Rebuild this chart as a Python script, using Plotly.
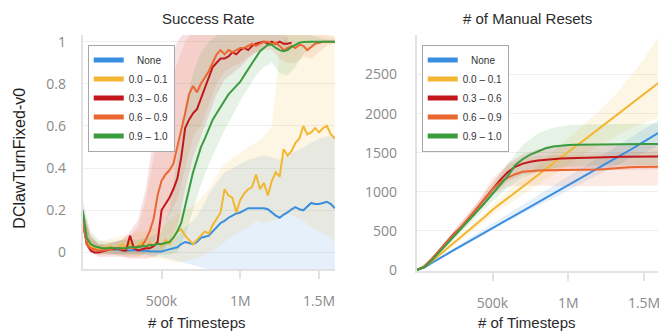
import plotly.graph_objects as go

# ---------------- data ----------------
LABELS = ["\u00a0\u00a0\u00a0None", "0.0 \u2013 0.1", "0.3 \u2013 0.6", "0.6 \u2013 0.9", "0.9 \u2013 1.0"]
COLORS = ["#3a8ee0", "#f2b632", "#c3161c", "#ea6730", "#3a9c3e"]

X_TICKS = [500_000, 1_000_000, 1_500_000]
X_TICK_TEXT = ["500k", "1M", "1.5M"]
SR_Y_TICKS = [0, 0.2, 0.4, 0.6, 0.8, 1.0]
SR_Y_TEXT = ["0", "0.2", "0.4", "0.6", "0.8", "1"]
MR_Y_TICKS = [0, 500, 1000, 1500, 2000, 2500]
MR_Y_TEXT = ["0", "500", "1000", "1500", "2000", "2500"]

# success rate, sampled every 25k steps
sr_steps = [i * 25_000 for i in range(65)]
sr_none = [0.15, 0.05, 0.03, 0.025, 0.02, 0.02, 0.018, 0.015, 0.015, 0.012,
           0.01, 0.01, 0.01, 0.012, 0.01, 0.01, 0.008, 0.006, 0.005, 0.004,
           0.005, 0.01, 0.015, 0.02, 0.025, 0.04, 0.05, 0.045, 0.04, 0.05,
           0.07, 0.075, 0.08, 0.1, 0.12, 0.14, 0.15, 0.165, 0.175, 0.185,
           0.19, 0.2, 0.21, 0.21, 0.21, 0.21, 0.21, 0.205, 0.19, 0.175,
           0.165, 0.18, 0.19, 0.205, 0.215, 0.205, 0.2, 0.22, 0.235, 0.23,
           0.23, 0.235, 0.24, 0.23, 0.21]
sr_00_01 = [0.15, 0.05, 0.03, 0.02, 0.02, 0.025, 0.02, 0.03, 0.02, 0.025,
            0.04, 0.02, 0.045, 0.025, 0.03, 0.05, 0.02, 0.045, 0.03, 0.05,
            0.03, 0.06, 0.04, 0.07, 0.1, 0.11, 0.08, 0.06, 0.04, 0.06,
            0.08, 0.1, 0.09, 0.13, 0.16, 0.19, 0.3, 0.27, 0.26, 0.19,
            0.25, 0.28, 0.3, 0.31, 0.37, 0.3, 0.33, 0.27, 0.34, 0.38,
            0.36, 0.49, 0.46, 0.48, 0.52, 0.54, 0.6, 0.56, 0.57, 0.59,
            0.57, 0.59, 0.6, 0.56, 0.54]
sr_03_06 = [0.16, 0.04, 0.01, 0.0, 0.0, 0.005, 0.01, 0.015, 0.015, 0.02,
            0.01, 0.01, 0.08, 0.02, 0.01, 0.015, 0.02, 0.02, 0.03, 0.05,
            0.2, 0.23, 0.26, 0.3, 0.35, 0.45, 0.59, 0.63, 0.66, 0.68,
            0.73, 0.79, 0.84, 0.88, 0.9, 0.92, 0.92, 0.93, 0.95, 0.94,
            0.96, 0.97, 0.96, 0.98, 0.99, 0.995, 1.0, 0.99, 1.0, 0.99,
            1.0, 0.99, 0.99, 0.995] + [None] * 11
sr_06_09 = [0.15, 0.04, 0.02, 0.015, 0.01, 0.01, 0.012, 0.015, 0.02, 0.02,
            0.015, 0.02, 0.025, 0.02, 0.03, 0.03, 0.06, 0.1, 0.16, 0.27,
            0.34, 0.37, 0.39, 0.42, 0.5, 0.57, 0.66, 0.75, 0.79, 0.76,
            0.8, 0.83, 0.86, 0.9, 0.94, 0.96, 0.94, 0.96, 0.95, 0.96,
            0.97, 0.97, 0.98, 0.99, 0.98, 0.99, 1.0, 1.0, 0.99, 0.995,
            0.98, 0.96, 0.97, 0.98, 0.97, 0.985, 0.98, 0.96, 0.975, 0.99,
            0.995, 1.0, 1.0, 1.0, 1.0]
sr_09_10 = [0.2, 0.07, 0.04, 0.03, 0.025, 0.02, 0.02, 0.022, 0.02, 0.02,
            0.022, 0.02, 0.025, 0.025, 0.025, 0.03, 0.03, 0.035, 0.035, 0.04,
            0.04, 0.045, 0.05, 0.07, 0.1, 0.14, 0.22, 0.3, 0.38, 0.44,
            0.5, 0.54, 0.59, 0.63, 0.66, 0.69, 0.72, 0.75, 0.77, 0.79,
            0.81, 0.84, 0.87, 0.9, 0.93, 0.955, 0.97, 0.985, 0.985, 0.97,
            0.96, 0.955, 0.96, 0.975, 0.985, 0.995, 0.998, 1.0, 1.0, 1.0,
            1.0, 1.0, 1.0, 1.0, 1.0]

# success rate spread (lower / upper), sampled every 50k steps
sr_band_steps = [i * 50_000 for i in range(33)]
sr_none_lo = [0.1, 0.0, -0.01, -0.01, -0.01, -0.01, -0.01, -0.01, -0.01, -0.02,
              -0.02, -0.03, -0.04, -0.05, -0.06, -0.07, -0.08, -0.08, -0.09, -0.08,
              -0.09, -0.1, -0.08, -0.09, -0.1, -0.08, -0.09, -0.1, -0.09, -0.1,
              -0.08, -0.1, -0.1]
sr_none_hi = [0.2, 0.06, 0.04, 0.03, 0.03, 0.03, 0.03, 0.03, 0.03, 0.04,
              0.04, 0.05, 0.08, 0.12, 0.15, 0.2, 0.28, 0.33, 0.38, 0.4,
              0.42, 0.44, 0.45, 0.46, 0.45, 0.44, 0.46, 0.48, 0.5, 0.52,
              0.54, 0.55, 0.55]
sr_00_01_lo = [0.1, 0.0, -0.01, -0.01, -0.01, -0.01, -0.02, -0.02, -0.02, -0.03,
               -0.03, -0.04, -0.05, -0.04, -0.03, -0.02, 0.0, 0.02, 0.05, 0.08,
               0.1, 0.12, 0.15, 0.14, 0.15, 0.16, 0.18, 0.17, 0.15, 0.12,
               0.1, 0.08, 0.05]
sr_00_01_hi = [0.2, 0.07, 0.05, 0.06, 0.07, 0.08, 0.08, 0.1, 0.1, 0.12,
               0.12, 0.15, 0.18, 0.2, 0.22, 0.26, 0.3, 0.36, 0.42, 0.45,
               0.47, 0.5, 0.52, 0.55, 0.6, 0.95, 1.05, 1.05, 1.05, 1.05,
               1.05, 1.05, 1.05]
sr_03_06_lo = [0.1, 0.0, -0.02, -0.02, -0.02, -0.02, -0.03, -0.03, -0.03, -0.02,
               0.0, 0.05, 0.12, 0.3, 0.45, 0.55, 0.65, 0.75, 0.82, 0.85,
               0.88, 0.92, 0.95, 0.97, 0.98, 0.97, 0.97] + [None] * 6
sr_03_06_hi = [0.22, 0.08, 0.04, 0.04, 0.05, 0.06, 0.1, 0.15, 0.3, 0.55,
               0.75, 0.9, 1.0, 1.05, 1.05, 1.05, 1.05, 1.05, 1.05, 1.05,
               1.05, 1.05, 1.05, 1.05, 1.05, 1.05, 1.02] + [None] * 6
sr_06_09_lo = [0.1, 0.0, -0.01, -0.01, -0.01, -0.02, -0.02, -0.02, 0.0, 0.05,
               0.12, 0.18, 0.25, 0.4, 0.55, 0.6, 0.7, 0.8, 0.86, 0.88,
               0.9, 0.93, 0.95, 0.96, 0.96, 0.92, 0.9, 0.9, 0.93, 0.92,
               0.95, 0.98, 0.99]
sr_06_09_hi = [0.2, 0.08, 0.04, 0.04, 0.05, 0.06, 0.08, 0.12, 0.25, 0.45,
               0.65, 0.78, 0.9, 1.0, 1.05, 1.05, 1.05, 1.05, 1.05, 1.05,
               1.05, 1.05, 1.05, 1.05, 1.05, 1.05, 1.05, 1.05, 1.05, 1.05,
               1.04, 1.03, 1.02]
sr_09_10_lo = [0.15, 0.02, 0.0, 0.0, -0.01, -0.01, -0.01, -0.01, -0.01, -0.01,
               -0.01, -0.01, 0.0, 0.08, 0.2, 0.32, 0.42, 0.5, 0.58, 0.65,
               0.72, 0.78, 0.84, 0.88, 0.9, 0.85, 0.84, 0.88, 0.94, 0.97,
               0.99, 1.0, 1.0]
sr_09_10_hi = [0.25, 0.1, 0.06, 0.05, 0.05, 0.06, 0.06, 0.06, 0.07, 0.08,
               0.1, 0.2, 0.45, 0.7, 0.85, 0.95, 1.0, 1.03, 1.05, 1.05,
               1.05, 1.05, 1.05, 1.05, 1.05, 1.05, 1.05, 1.05, 1.04, 1.03,
               1.02, 1.01, 1.01]

# cumulative manual resets, sampled every 50k steps
mr_steps = [i * 50_000 for i in range(33)]
mr_none = [0, 30, 90, 150, 205, 260, 315, 370, 425, 475,
           525, 580, 635, 690, 745, 800, 855, 910, 965, 1020,
           1075, 1130, 1185, 1240, 1300, 1355, 1410, 1470, 1525, 1585,
           1645, 1700, 1760]
mr_00_01 = [0, 35, 110, 190, 270, 350, 430, 510, 590, 680,
            770, 845, 915, 990, 1060, 1135, 1210, 1285, 1360, 1435,
            1510, 1585, 1655, 1730, 1805, 1880, 1950, 2025, 2100, 2175,
            2250, 2325, 2400]
mr_03_06 = [0, 40, 140, 250, 360, 470, 560, 680, 800, 920,
            1040, 1150, 1250, 1320, 1360, 1385, 1400, 1410, 1420, 1425,
            1430, 1434, 1437, 1440, 1442, 1444, 1446, 1447, 1448, 1449,
            1450, 1450, 1450]
mr_06_09 = [0, 40, 140, 245, 355, 465, 570, 680, 790, 910,
            1030, 1120, 1180, 1225, 1255, 1268, 1272, 1274, 1275, 1275,
            1275, 1278, 1280, 1282, 1285, 1290, 1300, 1310, 1315, 1318,
            1320, 1322, 1322]
mr_09_10 = [0, 35, 125, 230, 335, 440, 540, 645, 750, 860,
            975, 1090, 1200, 1340, 1420, 1475, 1520, 1556, 1578, 1592,
            1600, 1603, 1605, 1607, 1608, 1609, 1610, 1611, 1611, 1612,
            1612, 1612, 1612]

# manual resets spread (lower / upper), sampled every 100k steps
mr_band_steps = [i * 100_000 for i in range(17)]
mr_none_lo = [0, 80, 190, 300, 410, 520, 620, 720, 820, 920, 1020, 1120, 1220, 1320, 1420, 1500, 1600]
mr_none_hi = [0, 100, 230, 350, 470, 590, 710, 830, 960, 1080, 1200, 1320, 1440, 1560, 1680, 1800, 1930]
mr_00_01_lo = [0, 95, 240, 390, 540, 700, 830, 960, 1090, 1220, 1350, 1470, 1590, 1700, 1800, 1880, 1950]
mr_00_01_hi = [0, 125, 300, 470, 640, 840, 1000, 1170, 1340, 1510, 1680, 1850, 2030, 2220, 2450, 2700, 3000]
mr_03_06_lo = [0, 120, 320, 530, 740, 960, 1130, 1220, 1250, 1260, 1265, 1270, 1275, 1280, 1285, 1290, 1290]
mr_03_06_hi = [0, 160, 400, 630, 860, 1120, 1360, 1480, 1540, 1570, 1590, 1600, 1605, 1610, 1610, 1610, 1610]
mr_06_09_lo = [0, 120, 310, 510, 720, 960, 1060, 1080, 1080, 1075, 1070, 1070, 1070, 1075, 1080, 1080, 1080]
mr_06_09_hi = [0, 160, 400, 630, 860, 1180, 1340, 1430, 1460, 1470, 1470, 1480, 1490, 1500, 1510, 1520, 1520]
mr_09_10_lo = [0, 110, 300, 490, 690, 880, 1050, 1180, 1260, 1300, 1320, 1330, 1335, 1340, 1340, 1340, 1340]
mr_09_10_hi = [0, 140, 370, 590, 810, 1070, 1360, 1600, 1750, 1820, 1850, 1860, 1865, 1870, 1870, 1870, 1870]

SR_MEANS = [sr_none, sr_00_01, sr_03_06, sr_06_09, sr_09_10]
SR_BANDS = [(sr_none_lo, sr_none_hi), (sr_00_01_lo, sr_00_01_hi), (sr_03_06_lo, sr_03_06_hi),
            (sr_06_09_lo, sr_06_09_hi), (sr_09_10_lo, sr_09_10_hi)]
MR_MEANS = [mr_none, mr_00_01, mr_03_06, mr_06_09, mr_09_10]
MR_BANDS = [(mr_none_lo, mr_none_hi), (mr_00_01_lo, mr_00_01_hi), (mr_03_06_lo, mr_03_06_hi),
            (mr_06_09_lo, mr_06_09_hi), (mr_09_10_lo, mr_09_10_hi)]

# ---------------- figure ----------------
W, H = 660, 334


def rgba(hex_color, a):
    h = hex_color.lstrip("#")
    r, g, b = int(h[0:2], 16), int(h[2:4], 16), int(h[4:6], 16)
    return f"rgba({r},{g},{b},{a})"


fig = go.Figure()


def add_band(x, lo, hi, color, xa, ya):
    fig.add_trace(go.Scatter(x=x, y=lo, mode="lines", line=dict(width=0, color=color),
                             showlegend=False, hoverinfo="skip", xaxis=xa, yaxis=ya))
    fig.add_trace(go.Scatter(x=x, y=hi, mode="lines", line=dict(width=0, color=color),
                             fill="tonexty", fillcolor=rgba(color, 0.13),
                             showlegend=False, hoverinfo="skip", xaxis=xa, yaxis=ya))


for (lo, hi), c in zip(SR_BANDS, COLORS):
    add_band(sr_band_steps, lo, hi, c, "x", "y")
for (lo, hi), c in zip(MR_BANDS, COLORS):
    add_band(mr_band_steps, lo, hi, c, "x2", "y2")

for ys, c in zip(SR_MEANS, COLORS):
    fig.add_trace(go.Scatter(x=sr_steps, y=ys, mode="lines", showlegend=False,
                             line=dict(color=c, width=2), xaxis="x", yaxis="y"))
for ys, c in zip(MR_MEANS, COLORS):
    fig.add_trace(go.Scatter(x=mr_steps, y=ys, mode="lines", showlegend=False,
                             line=dict(color=c, width=2), xaxis="x2", yaxis="y2"))

# legend entries with thicker swatches, one legend per panel
for leg, xa, ya in (("legend", "x", "y"), ("legend2", "x2", "y2")):
    for name, c in zip(LABELS, COLORS):
        fig.add_trace(go.Scatter(x=[None], y=[None], mode="lines", name=name,
                                 line=dict(color=c, width=5), legend=leg,
                                 xaxis=xa, yaxis=ya, hoverinfo="skip"))

AXIS_GRAY = "#e2e2e2"
TICK_FONT = dict(family="Open Sans, Roboto, sans-serif", size=14, color="#8a8a8a")
TEXT_FONT = "Liberation Sans, Arial, sans-serif"


def xaxis(domain, rng, anchor):
    return dict(domain=domain, range=rng, anchor=anchor,
                tickvals=X_TICKS, ticktext=X_TICK_TEXT, tickfont=TICK_FONT,
                showline=True, linecolor=AXIS_GRAY, linewidth=2,
                ticks="outside", ticklen=8, tickwidth=2, tickcolor=AXIS_GRAY,
                ticklabelstandoff=10, ticklabeloverflow="allow",
                showgrid=False, zeroline=False)


def yaxis(domain, rng, anchor, vals, text, standoff):
    return dict(domain=domain, range=rng, anchor=anchor,
                tickvals=vals, ticktext=text, tickfont=TICK_FONT,
                showline=True, linecolor=AXIS_GRAY, linewidth=2, ticks="",
                ticklabelstandoff=standoff, showgrid=True, gridcolor="#efefef",
                gridwidth=1, zeroline=False)


def legend_at(px):
    return dict(x=px / W, y=(H - 43) / H, xanchor="left", yanchor="top",
                bgcolor="white", bordercolor="#a8a8a8", borderwidth=1,
                font=dict(family=TEXT_FONT, size=10, color="#333"),
                itemwidth=30, tracegroupgap=0, traceorder="normal")


annotations = [
    dict(text="Success Rate", x=209 / W, y=(H - 16) / H),
    dict(text="# of Manual Resets", x=529 / W, y=(H - 16) / H),
    dict(text="# of Timesteps", x=198 / W, y=(H - 330) / H),
    dict(text="# of Timesteps", x=529 / W, y=(H - 330) / H),
]
for a in annotations:
    a.update(xref="paper", yref="paper", showarrow=False, xanchor="center", yanchor="middle",
             font=dict(family=TEXT_FONT, size=15, color="#2b2b2b"))
annotations.append(dict(text="DClawTurnFixed-v0", x=20 / W, y=(H - 160) / H, xref="paper",
                        yref="paper", showarrow=False, textangle=-90, xanchor="center",
                        yanchor="middle", font=dict(family=TEXT_FONT, size=16, color="#1e1e1e")))

fig.update_layout(
    width=W, height=H, margin=dict(l=0, r=0, t=0, b=0),
    paper_bgcolor="white", plot_bgcolor="white",
    xaxis=xaxis([83 / W, 336 / W], [0, 1_601_000], "y"),
    yaxis=yaxis([(H - 275) / H, (H - 33) / H], [-0.078, 1.032], "x", SR_Y_TICKS, SR_Y_TEXT, 12),
    xaxis2=xaxis([418 / W, 1.0], [0, 1_592_000], "y2"),
    yaxis2=yaxis([(H - 277) / H, (H - 33) / H], [-12, 3007], "x2", MR_Y_TICKS, MR_Y_TEXT, 15),
    legend=legend_at(88),
    legend2=legend_at(423),
    annotations=annotations,
    showlegend=True,
)

fig.write_html("out.html")
